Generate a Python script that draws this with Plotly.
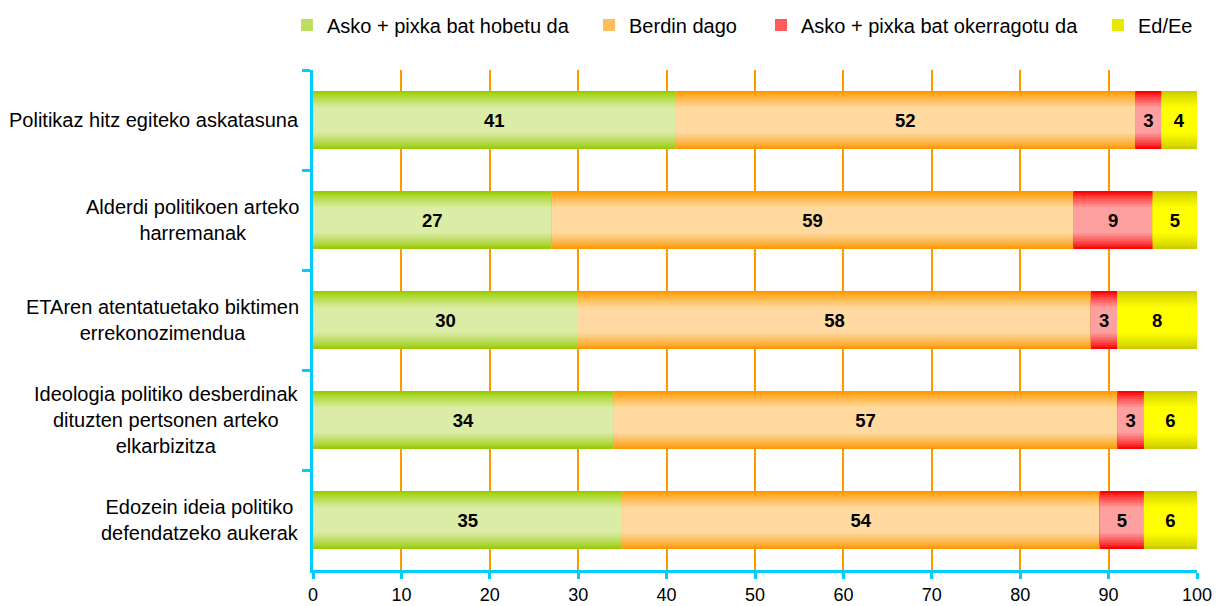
import plotly.graph_objects as go

categories = [
    "Politikaz hitz egiteko askatasuna",
    "Alderdi politikoen arteko<br>harremanak",
    "ETAren atentatuetako biktimen<br>errekonozimendua",
    "Ideologia politiko desberdinak<br>dituzten pertsonen arteko<br>elkarbizitza",
    "Edozein ideia politiko<br>defendatzeko aukerak",
]
series_names = ["Asko + pixka bat hobetu da", "Berdin dago",
                "Asko + pixka bat okerragotu da", "Ed/Ee"]
hobetu = [41, 27, 30, 34, 35]
berdin = [52, 59, 58, 57, 54]
okerragotu = [3, 9, 3, 3, 5]
ed_ee = [4, 5, 8, 6, 6]
x_ticks = [0, 10, 20, 30, 40, 50, 60, 70, 80, 90, 100]

# (edge colour, centre colour) for the shaded bars
shades = [((0x99, 0xCC, 0x00), (0xDA, 0xEC, 0xA6)),
          ((0xFF, 0x99, 0x00), (0xFF, 0xD9, 0xA0)),
          ((0xFF, 0x00, 0x00), (0xFF, 0xA0, 0xA0)),
          ((0xCC, 0xCC, 0x00), (0xFF, 0xFF, 0x00))]
legend_x = [0.2358, 0.484, 0.6253, 0.9022]

FONT = "Arial, Liberation Sans, sans-serif"
AXIS = "#00CCFF"

fig = go.Figure()
values = [hobetu, berdin, okerragotu, ed_ee]
base = [0] * len(categories)
n_layers = 9
for i, vals in enumerate(values):
    edge, centre = shades[i]
    # the last segment (Ed/Ee) fills each bar up to 100 %
    lengths = vals if i < len(values) - 1 else [100 - b for b in base]
    for k in range(n_layers):
        t = (k / (n_layers - 1)) ** 0.8
        col = "rgb(%d,%d,%d)" % tuple(round(e + (c - e) * t) for e, c in zip(edge, centre))
        last = k == n_layers - 1
        fig.add_trace(go.Bar(
            y=categories, x=lengths, base=base, orientation="h",
            width=0.58 - 0.04 * k,
            marker=dict(color=col, line=dict(width=0)),
            name=series_names[i],
            legend="legend" if i == 0 else "legend%d" % (i + 1),
            showlegend=(k == 4),
            text=vals if last else None,
            texttemplate="<b>%{text}</b>" if last else None,
            textposition="inside" if last else "none",
            insidetextanchor="middle", textangle=0, constraintext="none",
            textfont=dict(family=FONT, size=18.5, color="black"),
            hoverinfo="skip" if not last else None,
        ))
    base = [b + v for b, v in zip(base, lengths)]

for c in categories:
    fig.add_annotation(x=0, xref="paper", y=c, yref="y", text=c, showarrow=False,
                       xanchor="right", xshift=-12, align="center",
                       font=dict(family=FONT, size=20, color="black"))

legends = {}
for i, lx in enumerate(legend_x):
    key = "legend" if i == 0 else "legend%d" % (i + 1)
    legends[key] = dict(x=lx, y=1 - 25 / 606, xref="container", yref="container",
                        xanchor="left", yanchor="middle",
                        orientation="h", bgcolor="rgba(0,0,0,0)",
                        font=dict(family=FONT, size=20, color="black"))

fig.update_layout(
    barmode="overlay",
    width=1217, height=606,
    margin=dict(l=313, r=20, t=70, b=36, autoexpand=False),
    paper_bgcolor="white", plot_bgcolor="white",
    font=dict(family=FONT, size=19, color="black"),
    **legends,
)
fig.update_xaxes(range=[0, 100], tickvals=x_ticks, showgrid=False, zeroline=False,
                 showline=True, linecolor=AXIS, linewidth=3,
                 ticks="outside", ticklen=6, tickwidth=3, tickcolor=AXIS,
                 tickfont=dict(family=FONT, size=18, color="black"),
                 minor=dict(tickvals=x_ticks[1:-1], showgrid=True,
                            gridcolor="#FF9900", gridwidth=1.5, ticks=""))
fig.update_yaxes(autorange="reversed", showticklabels=False, showgrid=False,
                 showline=True, linecolor=AXIS, linewidth=3,
                 ticks="outside", tickson="boundaries", ticklen=8, tickwidth=3,
                 tickcolor=AXIS)

fig.write_html("out.html", config={"displayModeBar": False},
               post_script="document.body.style.margin = '0';")
